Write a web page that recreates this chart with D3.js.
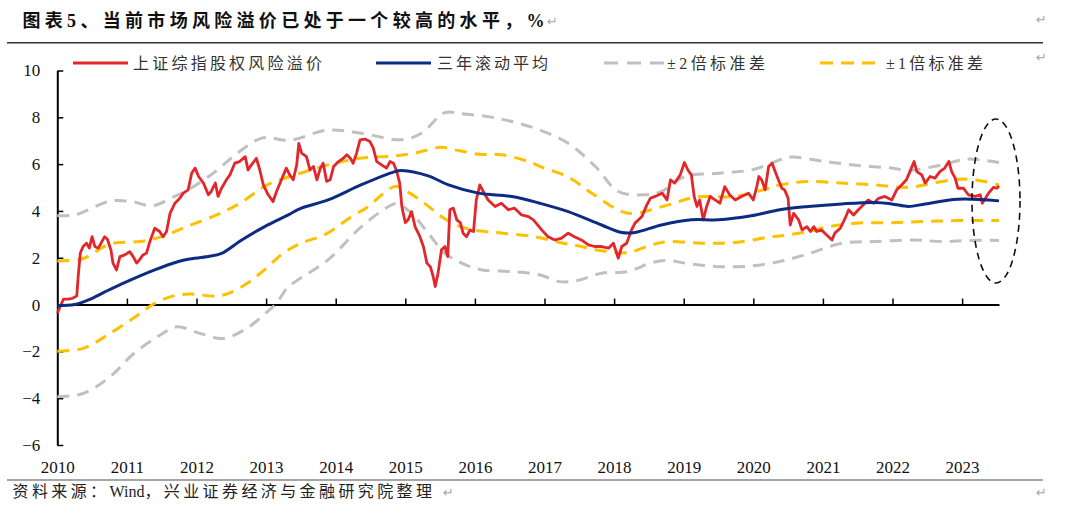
<!DOCTYPE html>
<html>
<head>
<meta charset="utf-8">
<script src="https://cdn.jsdelivr.net/npm/d3@7"></script>
<style>
  body { margin: 0; background: #fff; }
</style>
</head>
<body>
<svg id="chart"></svg>
<script>
// ---- data (decimal years) ----
const yearTicks = [2010, 2011, 2012, 2013, 2014, 2015, 2016, 2017, 2018, 2019, 2020, 2021, 2022, 2023];
const valueTicks = [-6, -4, -2, 0, 2, 4, 6, 8, 10];
const legendLabels = ["上证综指股权风险溢价", "三年滚动平均", "±2倍标准差", "±1倍标准差"];

// 上证综指股权风险溢价
const erpDates = [2010.00,2010.04,2010.09,2010.16,2010.22,2010.28,2010.30,2010.33,2010.37,2010.42,2010.46,2010.50,2010.54,2010.59,2010.64,2010.68,2010.72,2010.77,2010.80,2010.85,2010.90,2010.97,
  2011.04,2011.09,2011.14,2011.18,2011.23,2011.28,2011.33,2011.40,2011.47,2011.52,2011.57,2011.62,2011.69,2011.76,2011.81,2011.88,2011.93,2011.98,
  2012.03,2012.10,2012.17,2012.21,2012.27,2012.31,2012.36,2012.43,2012.48,2012.55,2012.62,2012.70,2012.74,2012.79,2012.86,2012.91,2012.96,
  2013.03,2013.10,2013.15,2013.22,2013.29,2013.34,2013.39,2013.44,2013.47,2013.51,2013.58,2013.63,2013.68,2013.73,2013.78,2013.82,2013.87,2013.92,2013.97,
  2014.04,2014.11,2014.16,2014.21,2014.25,2014.30,2014.35,2014.42,2014.49,2014.54,2014.59,2014.66,2014.73,2014.78,2014.83,2014.87,2014.92,2014.95,
  2015.00,2015.04,2015.09,2015.14,2015.21,2015.26,2015.31,2015.36,2015.40,2015.43,2015.47,2015.52,2015.57,2015.61,2015.64,2015.69,2015.74,2015.79,2015.83,2015.88,2015.93,2015.98,
  2016.02,2016.07,2016.12,2016.19,2016.29,2016.38,2016.48,2016.57,2016.67,2016.77,2016.84,2016.96,
  2017.05,2017.15,2017.24,2017.34,2017.43,2017.53,2017.63,2017.72,2017.82,2017.92,2017.99,
  2018.06,2018.11,2018.18,2018.25,2018.30,2018.40,2018.47,2018.52,2018.59,2018.69,2018.76,2018.81,2018.87,2018.95,
  2019.01,2019.06,2019.11,2019.15,2019.19,2019.23,2019.28,2019.33,2019.38,2019.45,2019.52,2019.59,2019.66,2019.74,2019.83,2019.93,
  2020.00,2020.05,2020.08,2020.12,2020.17,2020.22,2020.27,2020.31,2020.36,2020.41,2020.45,2020.50,2020.53,2020.58,2020.65,2020.70,2020.77,2020.82,2020.87,2020.91,2020.98,
  2021.05,2021.13,2021.17,2021.25,2021.32,2021.37,2021.44,2021.51,2021.58,2021.65,2021.73,2021.80,2021.89,2021.99,
  2022.06,2022.13,2022.20,2022.25,2022.31,2022.35,2022.42,2022.47,2022.54,2022.61,2022.68,2022.75,2022.81,2022.85,2022.90,2022.94,
  2023.02,2023.09,2023.19,2023.26,2023.29,2023.38,2023.45,2023.50,2023.53];
const erpValues = [-0.37,-0.09,0.23,0.23,0.27,0.37,1.20,2.19,2.48,2.62,2.41,2.90,2.48,2.41,2.69,2.90,2.79,2.34,1.77,1.48,2.05,2.12,
  2.26,2.05,1.77,1.91,2.12,2.19,2.69,3.26,3.12,2.90,3.12,3.90,4.33,4.54,4.76,4.90,5.61,5.83,
  5.47,5.19,4.69,4.83,5.19,4.62,4.97,5.33,5.54,6.04,6.11,6.32,5.75,5.97,6.25,5.75,5.11,
  4.69,4.40,4.83,5.33,5.83,5.54,5.33,5.97,6.89,6.47,6.32,5.75,5.90,5.33,5.83,6.04,5.26,5.33,5.90,
  6.11,6.25,6.40,6.25,6.04,6.47,7.04,7.07,6.97,6.68,6.11,5.97,5.83,6.11,6.04,5.75,5.19,4.19,
  3.50,3.62,3.97,3.33,2.90,2.48,1.77,1.62,1.20,0.77,1.34,2.34,2.48,2.05,4.05,4.12,3.62,3.50,3.05,2.90,3.19,3.12,
  4.47,5.11,4.83,4.47,4.19,4.33,4.05,4.12,3.83,3.76,3.62,3.19,
  2.90,2.76,2.83,3.05,2.90,2.76,2.55,2.48,2.48,2.41,2.62,
  1.98,2.48,2.62,3.19,3.48,3.76,4.26,4.54,4.62,4.76,4.47,5.33,5.19,5.54,
  6.07,5.75,5.54,4.62,4.19,4.47,3.62,4.19,4.62,4.47,4.33,5.04,4.69,4.47,4.62,4.76,
  4.47,5.04,5.47,5.33,4.90,5.90,6.04,5.72,5.33,4.97,4.90,4.54,3.40,3.90,3.62,3.19,3.33,3.12,3.33,3.12,3.19,
  2.98,2.76,3.05,3.26,3.69,4.05,3.83,4.05,4.26,4.47,4.33,4.54,4.62,4.47,
  4.90,5.11,5.33,5.68,6.11,5.68,5.54,5.19,5.47,5.40,5.68,5.83,6.11,5.68,5.40,4.97,
  4.97,4.69,4.62,4.69,4.33,4.76,5.01,4.97,5.07];

// 三年滚动平均
const meanDates = [2010.00,2010.25,2010.45,2010.69,2011.00,2011.40,2011.74,2011.88,2012.17,2012.36,2012.65,2012.98,2013.32,2013.49,2013.89,2014.37,2014.85,2014.95,2015.33,2015.62,2016.05,2016.53,2016.93,2017.34,2017.82,2018.11,2018.30,2018.68,2019.11,2019.50,2019.97,2020.38,2020.79,2021.27,2021.75,2021.99,2022.23,2022.47,2022.94,2023.53];
const meanValues = [-0.05,0.00,0.20,0.55,0.98,1.48,1.84,1.94,2.05,2.19,2.76,3.33,3.83,4.10,4.47,5.12,5.68,5.73,5.50,5.11,4.76,4.62,4.33,3.97,3.40,3.08,3.08,3.40,3.62,3.62,3.79,4.05,4.19,4.30,4.36,4.30,4.19,4.30,4.50,4.43];

// +1倍标准差
const up1Dates = [2010.00,2010.37,2010.76,2011.19,2011.48,2011.86,2012.29,2012.62,2013.01,2013.49,2013.97,2014.35,2014.85,2015.14,2015.50,2015.71,2016.07,2016.38,2016.77,2016.98,2017.34,2017.68,2018.11,2018.30,2018.78,2019.17,2019.74,2020.22,2020.38,2020.79,2021.27,2021.75,2022.23,2022.71,2023.00,2023.28,2023.53];
const up1Values = [1.86,1.97,2.59,2.69,2.88,3.33,3.83,4.32,5.10,5.61,6.03,6.25,6.35,6.47,6.72,6.61,6.42,6.40,6.11,5.85,5.45,4.76,3.97,3.90,4.26,4.59,4.62,4.97,5.11,5.26,5.19,5.11,5.01,5.26,5.36,5.28,5.11];

// -1倍标准差
const dn1Dates = [2010.00,2010.37,2010.76,2011.19,2011.38,2011.67,2011.91,2012.29,2012.48,2012.75,2013.00,2013.25,2013.50,2013.85,2014.25,2014.45,2014.75,2014.87,2015.07,2015.31,2015.55,2015.79,2016.05,2016.40,2016.86,2017.22,2017.50,2017.82,2018.20,2018.54,2018.78,2019.26,2019.74,2020.22,2020.38,2020.79,2021.08,2021.51,2021.99,2022.47,2022.94,2023.53];
const dn1Values = [-1.99,-1.87,-1.23,-0.38,0.02,0.37,0.45,0.36,0.50,0.95,1.55,2.20,2.62,3.00,3.80,4.15,4.90,5.05,4.75,4.25,3.70,3.33,3.15,3.05,2.90,2.65,2.50,2.30,2.22,2.55,2.69,2.62,2.65,2.88,2.93,3.12,3.33,3.48,3.50,3.55,3.59,3.59];

// +2倍标准差
const up2Dates = [2010.00,2010.25,2010.76,2011.07,2011.36,2011.67,2011.88,2012.27,2012.56,2012.94,2013.35,2013.87,2014.37,2014.95,2015.23,2015.57,2015.81,2016.19,2016.53,2016.93,2017.34,2017.73,2018.06,2018.44,2018.68,2019.02,2019.50,2019.97,2020.21,2020.38,2020.55,2021.03,2021.51,2021.99,2022.23,2022.71,2023.05,2023.28,2023.53];
const up2Values = [3.80,3.83,4.42,4.40,4.22,4.60,4.90,5.68,6.40,7.11,7.02,7.45,7.32,7.04,7.32,8.20,8.15,8.03,7.82,7.46,6.89,5.90,4.83,4.69,4.83,5.47,5.61,5.75,5.97,6.18,6.30,6.11,5.94,5.83,5.73,5.97,6.21,6.18,6.07];

// -2倍标准差
const dn2Dates = [2010.00,2010.37,2010.76,2011.10,2011.48,2011.72,2012.05,2012.38,2012.72,2013.00,2013.15,2013.30,2013.42,2013.89,2014.37,2014.76,2014.88,2015.09,2015.33,2015.57,2015.81,2016.10,2016.53,2016.93,2017.22,2017.46,2017.82,2018.20,2018.54,2018.78,2019.02,2019.50,2019.97,2020.38,2020.79,2021.27,2021.75,2022.32,2022.71,2023.09,2023.53];
const dn2Values = [-3.94,-3.80,-3.08,-2.09,-1.30,-0.95,-1.23,-1.45,-1.02,-0.35,0.06,0.70,0.98,1.91,3.33,4.19,4.32,3.90,3.05,2.19,1.77,1.48,1.41,1.27,0.98,1.02,1.34,1.41,1.79,1.88,1.77,1.62,1.65,1.84,2.17,2.62,2.69,2.76,2.69,2.74,2.74];

// ---- layout ----
const W = 1080, H = 513;
const plot = { left: 57.3, right: 999, top: 70.5, bottom: 445 };
const serif = "'Liberation Serif', 'Times New Roman', 'Noto Sans CJK SC', serif";
const cjk = "'Liberation Serif', 'Noto Sans CJK SC', sans-serif";

const svg = d3.select("#chart").attr("width", W).attr("height", H);

const x = d3.scaleLinear().domain([2010, 2023.53]).range([plot.left, plot.right]);
const y = d3.scaleLinear().domain([-6, 10]).range([plot.bottom, plot.top]);

// title
svg.append("text")
    .attr("x", 22.5).attr("y", 27)
    .attr("font-family", cjk).attr("font-size", 18).attr("font-weight", "bold")
    .attr("fill", "#111")
    .attr("textLength", 522).attr("lengthAdjust", "spacing")
    .text("图表5、当前市场风险溢价已处于一个较高的水平，%");
const markColor = "#a6a6a6";
[[547, 26], [1036, 24], [1036, 62], [443, 497], [1036, 497]].forEach(([mx, my]) => {
    svg.append("text").attr("x", mx).attr("y", my)
        .attr("font-family", "'DejaVu Sans', sans-serif").attr("font-size", 13)
        .attr("fill", markColor).text("↵");
});
svg.append("line").attr("x1", 7).attr("x2", 1043).attr("y1", 42.7).attr("y2", 42.7)
    .attr("stroke", "#333").attr("stroke-width", 1.6);

// footer (wide spacing only on the CJK runs)
svg.append("line").attr("x1", 7).attr("x2", 1043).attr("y1", 480).attr("y2", 480)
    .attr("stroke", "#888").attr("stroke-width", 1.4);
const footer = svg.append("text")
    .attr("x", 12.5).attr("y", 497)
    .attr("font-family", cjk).attr("font-size", 16).attr("fill", "#222");
footer.append("tspan").attr("letter-spacing", 3.4).text("资料来源：");
footer.append("tspan").attr("letter-spacing", 0).text("Wind");
footer.append("tspan").attr("letter-spacing", 3.4).text("，兴业证券经济与金融研究院整理");

// legend
const legendItems = [
    { x1: 73, x2: 128, tx: 133, tw: 189, color: "#e3262a", dash: null },
    { x1: 376, x2: 431, tx: 437, tw: 111, color: "#0c2b82", dash: null },
    { x1: 604, x2: 664, tx: 667, tw: 98, color: "#c0c0c0", dash: "14,9" },
    { x1: 820, x2: 878, tx: 886, tw: 97, color: "#ffc000", dash: "13,8" }
];
legendItems.forEach((d, i) => {
    svg.append("line").attr("x1", d.x1).attr("x2", d.x2).attr("y1", 63).attr("y2", 63)
        .attr("stroke", d.color).attr("stroke-width", 3)
        .attr("stroke-dasharray", d.dash);
    svg.append("text").attr("x", d.tx).attr("y", 69)
        .attr("font-family", cjk).attr("font-size", 16).attr("fill", "#333")
        .attr("textLength", d.tw).attr("lengthAdjust", "spacing")
        .text(legendLabels[i]);
});

// y axis (ticks pointing into the plot)
const yAxis = svg.append("g")
    .attr("transform", `translate(${plot.left},0)`)
    .call(d3.axisLeft(y).tickValues(valueTicks).tickSizeInner(-6).tickSizeOuter(0).tickPadding(17));
yAxis.select(".domain").attr("stroke", "#000").attr("stroke-width", 2);
yAxis.selectAll(".tick line").attr("stroke", "#000").attr("stroke-width", 1.5);
yAxis.selectAll("text").attr("font-family", serif).attr("font-size", 17).attr("fill", "#111");

// x axis line at zero, ticks upward
const xAxis = svg.append("g")
    .attr("transform", `translate(0,${y(0)})`)
    .call(d3.axisTop(x).tickValues(yearTicks.slice(1)).tickSizeInner(6).tickSizeOuter(0).tickFormat(""));
xAxis.select(".domain").attr("stroke", "#000").attr("stroke-width", 2);
xAxis.selectAll(".tick line").attr("stroke", "#000").attr("stroke-width", 1.5);

// year labels along the bottom
const xLabels = svg.append("g")
    .attr("transform", `translate(0,${plot.bottom + 10})`)
    .call(d3.axisBottom(x).tickValues(yearTicks).tickSize(0).tickPadding(6).tickFormat(d3.format("d")));
xLabels.select(".domain").remove();
xLabels.selectAll("text").attr("font-family", serif).attr("font-size", 17).attr("fill", "#111");

// series
const smooth = d3.line().x(d => x(d[0])).y(d => y(d[1])).curve(d3.curveCatmullRom.alpha(0.5));
const jagged = d3.line().x(d => x(d[0])).y(d => y(d[1]));
const zip = (a, b) => a.map((v, i) => [v, b[i]]);

const bands = [
    { dates: up2Dates, values: up2Values, color: "#c0c0c0", dash: "12,8" },
    { dates: dn2Dates, values: dn2Values, color: "#c0c0c0", dash: "12,8" },
    { dates: up1Dates, values: up1Values, color: "#ffc000", dash: "12,8" },
    { dates: dn1Dates, values: dn1Values, color: "#ffc000", dash: "12,8" }
];
bands.forEach(b => {
    svg.append("path").datum(zip(b.dates, b.values))
        .attr("d", smooth)
        .attr("fill", "none").attr("stroke", b.color).attr("stroke-width", 3)
        .attr("stroke-dasharray", b.dash);
});

svg.append("path").datum(zip(erpDates, erpValues))
    .attr("d", jagged)
    .attr("fill", "none").attr("stroke", "#e3262a").attr("stroke-width", 2.8)
    .attr("stroke-linejoin", "round");

svg.append("path").datum(zip(meanDates, meanValues))
    .attr("d", smooth)
    .attr("fill", "none").attr("stroke", "#0c2b82").attr("stroke-width", 3);

// highlight ellipse around the latest reading
svg.append("ellipse")
    .attr("cx", 996).attr("cy", 201).attr("rx", 24).attr("ry", 82)
    .attr("fill", "none").attr("stroke", "#111").attr("stroke-width", 1.6)
    .attr("stroke-dasharray", "7,5");
</script>
</body>
</html>
